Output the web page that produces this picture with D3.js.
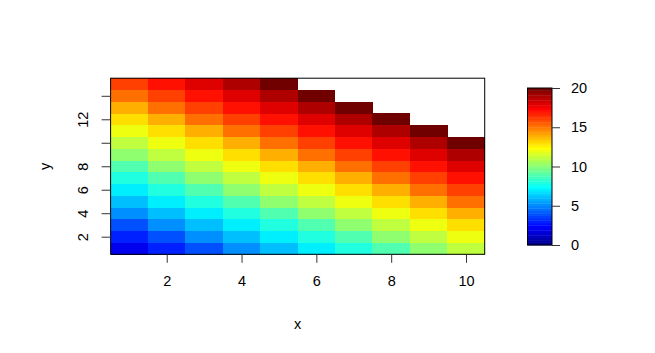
<!DOCTYPE html>
<html>
<head>
<meta charset="utf-8">
<script src="https://cdn.jsdelivr.net/npm/d3@7"></script>
<style>
    body { margin: 0; background: #fff; }
    svg text { font-family: "Liberation Sans", Arial, Helvetica, sans-serif; font-size: 14.5px; fill: #000; }
</style>
</head>
<body>
<div id="chart"></div>
<script>
// grid values, one array per y row (y = 1 .. 15), x = 1 .. 10; null = missing cell
const xValues = [1, 2, 3, 4, 5, 6, 7, 8, 9, 10];
const yValues = [1, 2, 3, 4, 5, 6, 7, 8, 9, 10, 11, 12, 13, 14, 15];
const zRows = [
    [2, 3, 4, 5, 6, 7, 8, 9, 10, 11],
    [3, 4, 5, 6, 7, 8, 9, 10, 11, 12],
    [4, 5, 6, 7, 8, 9, 10, 11, 12, 13],
    [5, 6, 7, 8, 9, 10, 11, 12, 13, 14],
    [6, 7, 8, 9, 10, 11, 12, 13, 14, 15],
    [7, 8, 9, 10, 11, 12, 13, 14, 15, 16],
    [8, 9, 10, 11, 12, 13, 14, 15, 16, 17],
    [9, 10, 11, 12, 13, 14, 15, 16, 17, 18],
    [10, 11, 12, 13, 14, 15, 16, 17, 18, 19],
    [11, 12, 13, 14, 15, 16, 17, 18, 19, 20],
    [12, 13, 14, 15, 16, 17, 18, 19, 20, null],
    [13, 14, 15, 16, 17, 18, 19, 20, null, null],
    [14, 15, 16, 17, 18, 19, 20, null, null, null],
    [15, 16, 17, 18, 19, 20, null, null, null, null],
    [16, 17, 18, 19, 20, null, null, null, null, null]
];

const xTicks = [2, 4, 6, 8, 10];
const yTicks = [2, 4, 6, 8, 10, 12, 14];
const yTickLabels = ['2', '4', '6', '8', '', '12', ''];
const legendTicks = [0, 5, 10, 15, 20];
const zlim = [0, 20];

// tim.colors(64)
const palette = ["#00008F", "#00009F", "#0000AF", "#0000BF", "#0000CF", "#0000DF", "#0000EF", "#0000FF",
    "#0010FF", "#0020FF", "#0030FF", "#0040FF", "#0050FF", "#0060FF", "#0070FF", "#0080FF",
    "#008FFF", "#009FFF", "#00AFFF", "#00BFFF", "#00CFFF", "#00DFFF", "#00EFFF", "#00FFFF",
    "#10FFEF", "#20FFDF", "#30FFCF", "#40FFBF", "#50FFAF", "#60FF9F", "#70FF8F", "#80FF80",
    "#8FFF70", "#9FFF60", "#AFFF50", "#BFFF40", "#CFFF30", "#DFFF20", "#EFFF10", "#FFFF00",
    "#FFEF00", "#FFDF00", "#FFCF00", "#FFBF00", "#FFAF00", "#FF9F00", "#FF8F00", "#FF8000",
    "#FF7000", "#FF6000", "#FF5000", "#FF4000", "#FF3000", "#FF2000", "#FF1000", "#FF0000",
    "#EF0000", "#DF0000", "#CF0000", "#BF0000", "#AF0000", "#9F0000", "#8F0000", "#700000"];

const width = 655;
const height = 353;
const plot = {left: 110.6, right: 484.7, top: 78.2, bottom: 254.3};
const legendBox = {left: 527.5, right: 552, top: 88, bottom: 245};

const color = d3.scaleQuantize().domain(zlim).range(palette);

const x = d3.scaleLinear()
    .domain([0.5, 10.5])
    .range([plot.left, plot.right]);

const y = d3.scaleLinear()
    .domain([0.5, 15.5])
    .range([plot.bottom, plot.top]);

const svg = d3.select('#chart')
    .append('svg')
    .attr('width', width)
    .attr('height', height);

const cells = [];
zRows.forEach((row, j) => {
    row.forEach((z, i) => {
        if (z !== null) cells.push({x: xValues[i], y: yValues[j], z: z});
    });
});

svg.append('g')
    .selectAll('rect')
    .data(cells)
    .enter().append('rect')
    .attr('x', d => x(d.x - 0.5))
    .attr('y', d => y(d.y + 0.5))
    .attr('width', d => x(d.x + 0.5) - x(d.x - 0.5) + 0.3)
    .attr('height', d => y(d.y - 0.5) - y(d.y + 0.5) + 0.3)
    .attr('fill', d => color(d.z))
    .attr('shape-rendering', 'crispEdges');

svg.append('rect')
    .attr('x', plot.left)
    .attr('y', plot.top)
    .attr('width', plot.right - plot.left)
    .attr('height', plot.bottom - plot.top)
    .attr('fill', 'none')
    .attr('stroke', '#000')
    .attr('stroke-width', 1);

const xAxis = d3.axisBottom(x)
    .tickValues(xTicks)
    .tickSize(8.5)
    .tickPadding(13)
    .tickSizeOuter(0);

const yAxis = d3.axisLeft(y)
    .tickValues(yTicks)
    .tickFormat((d, i) => yTickLabels[i])
    .tickSize(9)
    .tickSizeOuter(0);

const gx = svg.append('g')
    .attr('class', 'x axis')
    .attr('transform', `translate(0,${plot.bottom})`)
    .call(xAxis);
gx.select('.domain').remove();
gx.selectAll('line').attr('stroke', '#333');
gx.selectAll('text').attr('font-size', null);

const gy = svg.append('g')
    .attr('class', 'y axis')
    .attr('transform', `translate(${plot.left},0)`)
    .call(yAxis);
gy.select('.domain').remove();
gy.selectAll('line').attr('stroke', '#333');
gy.selectAll('text')
    .attr('font-size', null)
    .attr('x', null)
    .attr('dy', null)
    .attr('text-anchor', 'middle')
    .attr('dominant-baseline', 'central')
    .attr('transform', 'translate(-27.5,0) rotate(-90)');

svg.append('text')
    .attr('x', (plot.left + plot.right) / 2)
    .attr('y', 329)
    .attr('text-anchor', 'middle')
    .text('x');

svg.append('text')
    .attr('transform', `translate(50,${(plot.top + plot.bottom) / 2}) rotate(-90)`)
    .attr('text-anchor', 'middle')
    .text('y');

// colour legend
const ly = d3.scaleLinear()
    .domain(zlim)
    .range([legendBox.bottom, legendBox.top]);

const step = (zlim[1] - zlim[0]) / palette.length;
svg.append('g')
    .selectAll('rect')
    .data(palette)
    .enter().append('rect')
    .attr('x', legendBox.left)
    .attr('y', (d, i) => ly(zlim[0] + (i + 1) * step))
    .attr('width', legendBox.right - legendBox.left)
    .attr('height', ly(0) - ly(step) + 0.4)
    .attr('fill', d => d);

svg.append('rect')
    .attr('x', legendBox.left)
    .attr('y', legendBox.top)
    .attr('width', legendBox.right - legendBox.left)
    .attr('height', legendBox.bottom - legendBox.top)
    .attr('fill', 'none')
    .attr('stroke', '#000')
    .attr('stroke-width', 1);

const legendAxis = d3.axisRight(ly)
    .tickValues(legendTicks)
    .tickSize(8)
    .tickPadding(11)
    .tickSizeOuter(0);

const gl = svg.append('g')
    .attr('class', 'legend axis')
    .attr('transform', `translate(${legendBox.right},0)`)
    .call(legendAxis);
gl.select('.domain').remove();
gl.selectAll('line').attr('stroke', '#333');
gl.selectAll('text').attr('font-size', null);
</script>
</body>
</html>
